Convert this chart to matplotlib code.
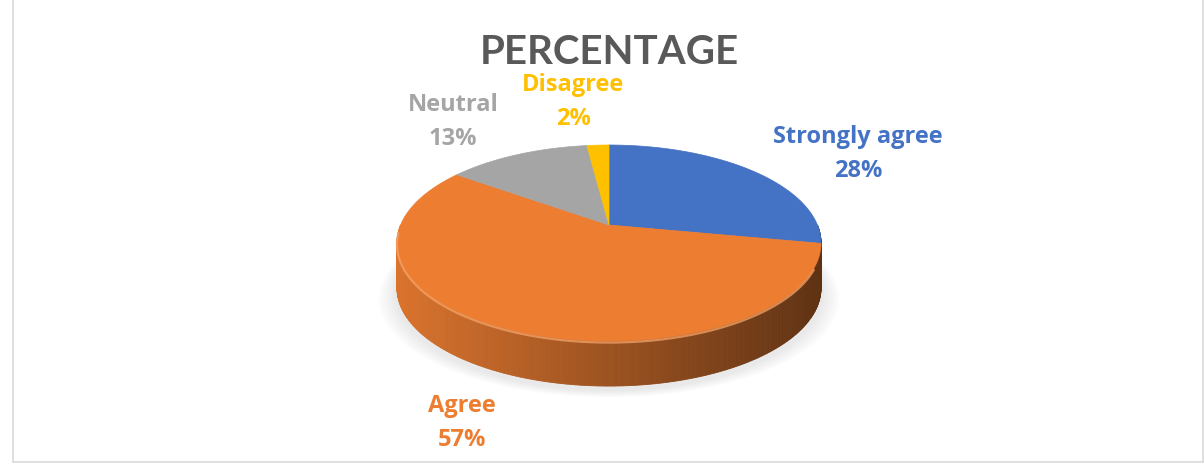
import numpy as np
import matplotlib.pyplot as plt
from matplotlib.patches import Polygon, Rectangle
from matplotlib.colors import to_rgb

# data
labels = ['Strongly agree', 'Agree', 'Neutral', 'Disagree']
values = [28, 57, 13, 2]
colors = ['#4472C4', '#ED7D31', '#A5A5A5', '#FFC000']
title = 'PERCENTAGE'

plt.rcParams['font.family'] = ['Lato', 'DejaVu Sans']

W, H = 1204, 471
fig = plt.figure(figsize=(W / 100, H / 100), dpi=100)
ax = fig.add_axes([0, 0, 1, 1])
ax.set_xlim(0, W)
ax.set_ylim(H, 0)
ax.axis('off')

# 3d pie geometry in pixels (disc seen from above with a bit of perspective)
cx, cy = 609, 225      # projected centre of the disc
K = 208.4              # scale
KS = 94.7              # scale * sin(tilt)
persp = 0.184          # cos(tilt) / camera distance
depth = 45


def pt(t, dy=0.0):
    s = 1.0 / (1.0 + persp * np.sin(t))
    return cx + K * np.cos(t) * s, cy - KS * np.sin(t) * s + dy


# soft shadow under the pie
ts = np.linspace(0, 2 * np.pi, 300)
for k in range(7):
    xs, ys = pt(ts, dy=depth + 4)
    xs = cx + (xs - cx) * (1.0 + 0.012 * (7 - k))
    ys = ys + 1.0 * (7 - k)
    ax.fill(xs, ys, color='#7f7f7f', alpha=0.022, lw=0, zorder=1)

# slice angles (clockwise from 12 o'clock)
fracs = np.array(values) / np.sum(values)
ends = 90 - 360 * np.cumsum(fracs)
starts = np.concatenate([[90], ends[:-1]])

xmin, xmax = cx - 212, cx + 212


def shade(c, x):
    # light from the left, dark toward the right
    f = np.clip((x - xmin) / (xmax - xmin), 0, 1)
    k = 0.92 - 0.52 * f
    r, g, b = to_rgb(c)
    return (r * k, g * k, b * k)


# side walls, front half only, drawn back to front
strips = []
for s, e, c in zip(starts, ends, colors):
    lo, hi = max(np.radians(e), -np.pi), min(np.radians(s), 0.0)
    if lo < hi:
        tt = np.linspace(lo, hi, int(300 * (hi - lo) / np.pi) + 2)
        for t1, t2 in zip(tt[:-1], tt[1:]):
            strips.append((np.sin((t1 + t2) / 2), t1, t2, c))
strips.sort(key=lambda v: -v[0])
for _, t1, t2, c in strips:
    x1, y1 = pt(t1)
    x2, y2 = pt(t2)
    col = shade(c, (x1 + x2) / 2)
    poly = [(x1, y1), (x2, y2), (x2, y2 + depth), (x1, y1 + depth)]
    ax.add_patch(Polygon(poly, closed=True, facecolor=col, edgecolor=col, lw=0.6, zorder=2))

# top faces
for s, e, c in zip(starts, ends, colors):
    tt = np.radians(np.linspace(s, e, 200))
    xs, ys = pt(tt)
    verts = [(cx, cy)] + list(zip(xs, ys))
    ax.add_patch(Polygon(verts, closed=True, facecolor=c, edgecolor=c, lw=0.5, zorder=3))

# bevel highlight on the front rim
tt = np.radians(np.linspace(-176, -25, 200))
xs, ys = pt(tt, dy=1.5)
ax.plot(xs, ys, color='#F6A469', lw=1.6, alpha=0.75, zorder=4, solid_capstyle='round')

# title
ax.text(609, 53, title, ha='center', va='center', fontsize=29, fontweight='bold',
        color='#595959', zorder=5)

# data labels
label_pos = [(858, 154), (462, 423), (453, 122), (573, 102)]
for lab, v, c, (lx, ly) in zip(labels, values, colors, label_pos):
    ax.text(lx, ly, '%s\n%d%%' % (lab, v), ha='center', va='center', fontsize=17,
            fontweight='bold', color=c, linespacing=1.6, zorder=5,
            family=['Open Sans', 'DejaVu Sans'])

# chart border
ax.add_patch(Rectangle((13, -5), 1190, 467, facecolor='none', edgecolor='#D9D9D9', lw=1.2, zorder=6))

fig.savefig('out.png', dpi=100)
